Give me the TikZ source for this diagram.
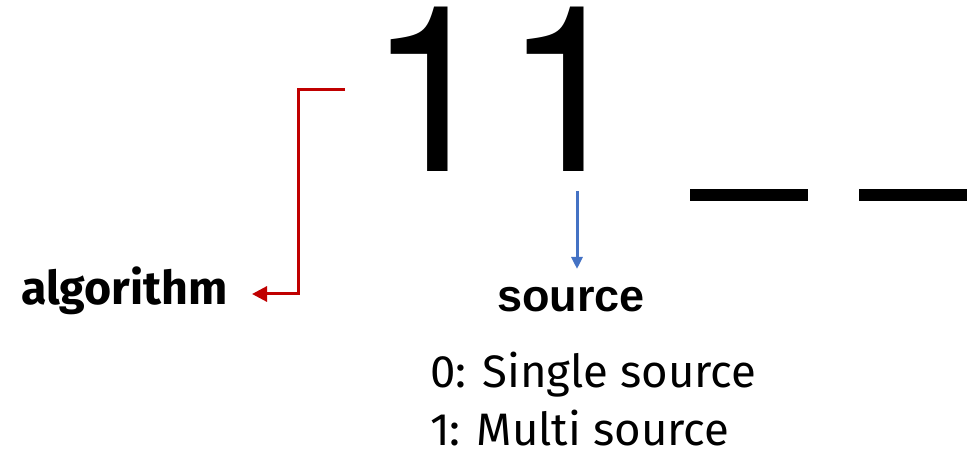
\documentclass[tikz,border=0pt]{standalone}
\usepackage{fontspec}
\setmainfont{Liberation Sans}
\newfontfamily\digitfont{TeX Gyre Heros}
\newfontfamily\labfont{Fira Sans}
\usetikzlibrary{arrows.meta}
\definecolor{algred}{HTML}{C00000}
\definecolor{srcblue}{HTML}{4472C4}
\tikzset{
  txt/.style={inner sep=0pt, outer sep=0pt, anchor=base west},
  redarrow/.style={draw=algred, line width=3pt, -{Triangle[length=15pt,width=15pt]}},
  bluearrow/.style={draw=srcblue, line width=3pt, -{Triangle[length=12pt,width=11pt]}},
  blank/.style={fill=black, draw=none, inner sep=0pt, minimum height=12pt}
}
\begin{document}
\begin{tikzpicture}[x=1pt,y=-1pt]
\useasboundingbox (0,0) rectangle (967,454);
\node[txt] (code) at (367,172) {\digitfont\fontsize{232}{232}\selectfont 1\kern8pt 1};
\node[blank, minimum width=118pt, anchor=north west] (b1) at (690,189) {};
\node[blank, minimum width=108pt, anchor=north west] (b2) at (859,189) {};
\node[txt] (alg) at (21,305) {\labfont\bfseries\fontsize{46.5}{46.5}\selectfont algorithm};
\node[txt] (src) at (497,312) {\bfseries\fontsize{45}{45}\selectfont source};
\node[txt] (opt0) at (430,388) {\labfont\fontsize{45.5}{45.5}\selectfont 0: Single source};
\node[txt] (opt1) at (430,445) {\labfont\fontsize{45.5}{45.5}\selectfont 1: Multi source};
\coordinate (r0) at (345,90);
\coordinate (r1) at (298,200);
\coordinate (algtip) at (252,294);
\coordinate (s0) at (577,191);
\coordinate (srctip) at (577,269);
\draw[redarrow] (r0) -| (r1) |- (algtip);
\draw[bluearrow] (s0) -- (srctip);
\end{tikzpicture}
\end{document}
